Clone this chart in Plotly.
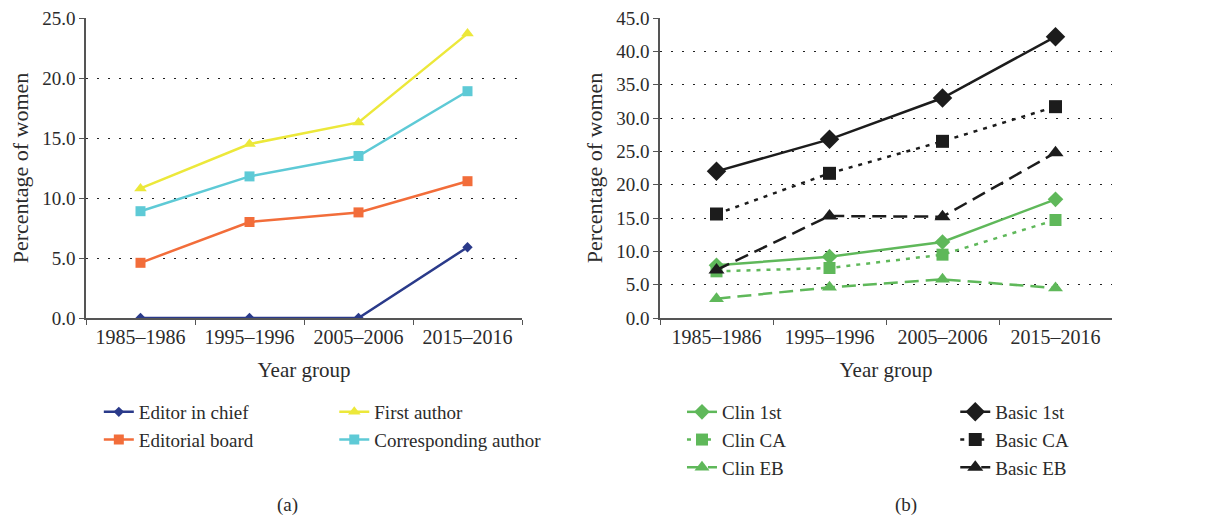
import plotly.graph_objects as go

years = ['1985\u20131986', '1995\u20131996', '2005\u20132006', '2015\u20132016']

# panel (a)
editor_in_chief = [0.0, 0.0, 0.0, 5.9]
editorial_board = [4.6, 8.0, 8.8, 11.4]
first_author = [10.8, 14.5, 16.3, 23.7]
corresponding_author = [8.9, 11.8, 13.5, 18.9]

# panel (b)
clin_1st = [7.9, 9.2, 11.4, 17.8]
clin_ca = [7.0, 7.5, 9.5, 14.7]
clin_eb = [2.9, 4.6, 5.8, 4.5]
basic_1st = [22.0, 26.8, 33.0, 42.2]
basic_ca = [15.6, 21.7, 26.5, 31.7]
basic_eb = [7.2, 15.3, 15.2, 24.8]

FONT = 'Liberation Serif'
TXT = '#2b2b2b'
GREEN = '#5fb85a'
BLACK = '#1c1c1c'
DOT = '4px,6px'
DASH = '14px,7px'

fig = go.Figure()

left_series = [
    ('Editor in chief', editor_in_chief, '#2a3a8a', 'diamond', 8, 'legend'),
    ('Editorial board', editorial_board, '#f26d3a', 'square', 10, 'legend'),
    ('First author', first_author, '#ece83a', 'triangle-up', 11, 'legend2'),
    ('Corresponding author', corresponding_author, '#5ecad6', 'square', 10, 'legend2'),
]
for name, vals, col, sym, sz, leg in left_series:
    fig.add_trace(go.Scatter(
        x=years, y=vals, name=name, mode='lines+markers',
        line=dict(color=col, width=2.5),
        marker=dict(symbol=sym, size=sz, color=col),
        xaxis='x', yaxis='y', legend=leg,
    ))

right_series = [
    ('Clin 1st', clin_1st, GREEN, 'solid', 'diamond', 12, 'legend3'),
    ('Clin CA', clin_ca, GREEN, DOT, 'square', 12, 'legend3'),
    ('Clin EB', clin_eb, GREEN, DASH, 'triangle-up', 13, 'legend3'),
    ('Basic 1st', basic_1st, BLACK, 'solid', 'diamond', 15, 'legend4'),
    ('Basic CA', basic_ca, BLACK, DOT, 'square', 13, 'legend4'),
    ('Basic EB', basic_eb, BLACK, DASH, 'triangle-up', 14, 'legend4'),
]
for name, vals, col, dash, sym, sz, leg in right_series:
    fig.add_trace(go.Scatter(
        x=years, y=vals, name=name, mode='lines+markers',
        line=dict(color=col, width=2.5, dash=dash),
        marker=dict(symbol=sym, size=sz, color=col),
        xaxis='x2', yaxis='y2', legend=leg,
    ))

xax = dict(
    type='category', range=[-0.5, 3.5], automargin=False,
    showline=True, linecolor='#555555', linewidth=1.5,
    ticks='outside', tickson='boundaries', ticklen=5, tickcolor='#555555',
    showgrid=False, zeroline=False,
    tickfont=dict(family=FONT, size=20, color=TXT),
    title=dict(text='Year group', font=dict(family=FONT, size=21, color=TXT), standoff=16),
)
yax = dict(
    automargin=False,
    showline=True, linecolor='#555555', linewidth=1.5,
    ticks='outside', ticklen=5, tickcolor='#555555',
    showgrid=True, gridcolor='#222222', gridwidth=1, griddash='2px,9px',
    zeroline=False, dtick=5, tickformat='.1f',
    tickfont=dict(family=FONT, size=19, color=TXT),
    title=dict(text='Percentage of women', font=dict(family=FONT, size=22, color=TXT), standoff=8),
)

leg_style = dict(
    xanchor='left', yanchor='top', orientation='v',
    bgcolor='rgba(0,0,0,0)', tracegroupgap=0,
    font=dict(family=FONT, size=19, color=TXT),
)
leg_top = 1 - 393 / 519

fig.update_layout(
    width=1220, height=519,
    margin=dict(l=0, r=0, t=0, b=0),
    paper_bgcolor='white', plot_bgcolor='white',
    font=dict(family=FONT, color=TXT),
    xaxis=dict(xax, domain=[86 / 1220, 522 / 1220], anchor='y'),
    yaxis=dict(yax, domain=[1 - 318 / 519, 1 - 18 / 519], range=[0, 25], anchor='x'),
    xaxis2=dict(xax, domain=[660 / 1220, 1112 / 1220], anchor='y2'),
    yaxis2=dict(yax, domain=[1 - 318 / 519, 1 - 18 / 519], range=[0, 45], anchor='x2'),
    legend=dict(leg_style, x=0.081, y=leg_top),
    legend2=dict(leg_style, x=0.274, y=leg_top),
    legend3=dict(leg_style, x=0.559, y=leg_top),
    legend4=dict(leg_style, x=0.783, y=leg_top),
    annotations=[
        dict(text='(a)', x=287 / 1220, y=1 - 505 / 519, xref='paper', yref='paper',
             xanchor='center', yanchor='middle',
             showarrow=False, font=dict(family=FONT, size=19, color=TXT)),
        dict(text='(b)', x=906 / 1220, y=1 - 505 / 519, xref='paper', yref='paper',
             xanchor='center', yanchor='middle',
             showarrow=False, font=dict(family=FONT, size=19, color=TXT)),
    ],
)

fig.write_html('out.html', config={'displayModeBar': False},
               post_script="document.body.style.margin='0';")
